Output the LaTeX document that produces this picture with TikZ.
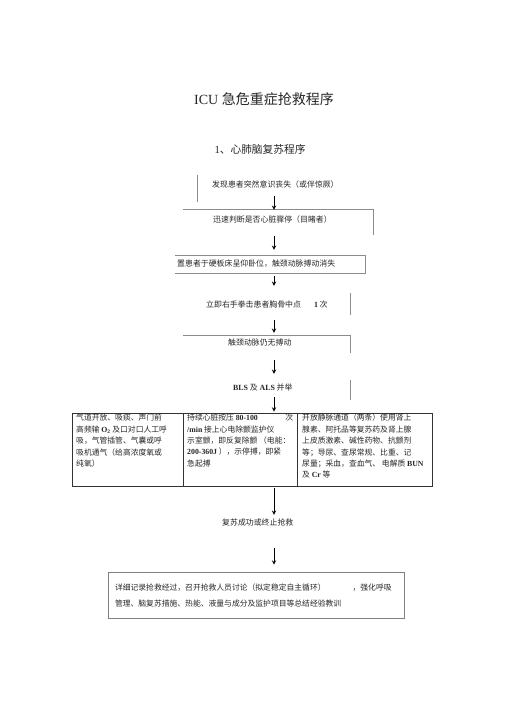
\documentclass[tikz,border=0pt]{standalone}
\usepackage{fontspec}
\setmainfont{Liberation Serif}
\newfontfamily\cjk{Noto Sans CJK SC}
\usetikzlibrary{arrows}
\newcommand{\lat}[1]{{\rmfamily\bfseries #1}}
\tikzstyle{boxtext} = [anchor = west, inner sep = 0pt, text height = 6.5pt, text depth = 1.5pt, font = \cjk\fontsize{7.9}{9}\selectfont, text = black!85]
\tikzstyle{tablecell} = [anchor = north west, inner sep = 0pt, align = left, font = \cjk\fontsize{7.8}{11.4}\selectfont, text = black!85]
\tikzstyle{boxline} = [draw = black!45, line width = 0.6pt]
\tikzstyle{arrow} = [line width = 0.9pt,->,>=stealth]
\begin{document}
\begin{tikzpicture}[x = 1pt, y = -1pt]
        	\useasboundingbox (0,0) rectangle (505,714);
        	\coordinate (axis) at (274,0);

        	\node[font = \fontsize{14}{16}\selectfont, text = black!85](Title) at (264,99){ICU \cjk 急危重症抢救程序};
        	\node[font = \fontsize{10.7}{12}\selectfont, text = black!85](Subtitle) at (260,149){1\cjk 、心肺脑复苏程序};

        	\node[boxtext](Step 1) at (212,185){发现患者突然意识丧失（或伴惊厥）};
        	\node[boxtext](Step 2) at (213,220){迅速判断是否心脏骤停（目睹者）};
        	\node[boxtext](Step 3) at (177,264){置患者于硬板床呈仰卧位，触颈动脉搏动消失};
        	\node[boxtext](Step 4) at (206,305){立即右手拳击患者胸骨中点\hspace{13pt}\lat{1} 次};
        	\node[boxtext](Step 5) at (228,343){触颈动脉仍无搏动};
        	\node[boxtext](Step 6) at (233,388){\lat{BLS} 及 \lat{ALS} 并举};

        	\draw[boxline](197,175) -- (197,202);
        	\draw[boxline](183,209) -- (373,209) -- (373,235);
        	\draw[boxline](175,255) -- (365,255) -- (365,273) -- (175,273);
        	\draw[boxline](350,293) -- (350,315);
        	\draw[boxline](183,335) -- (350,335) -- (350,353);
        	\draw[boxline](350,380) -- (350,400);

        	\node[draw = black!80, line width = 0.9pt, minimum width = 360pt, minimum height = 73pt, inner sep = 0pt](Table) at (252,449.5){};
        	\draw[draw = black!80, line width = 0.7pt](183,413) -- (183,486);
        	\draw[draw = black!80, line width = 0.7pt](297,413) -- (297,486);
        	\node[tablecell](Cell 1) at (76,414){气道开放、吸痰、声门前\\高频输 \lat{O\textsubscript{2}} 及口对口人工呼\\吸，气管插管、气囊或呼\\吸机通气（给高浓度氧或\\纯氧）};
        	\node[tablecell](Cell 2) at (187,414){\makebox[106pt][l]{持续心脏按压 \lat{80-100}\hfill 次}\\\lat{/min} 接上心电除颤监护仪\\示室颤，即反复除颤 （电能：\\\lat{200-360J} ），示停搏，即紧\\急起搏};
        	\node[tablecell](Cell 3) at (302,414){开放静脉通道（两条）使用肾上\\腺素、阿托品等复苏药及肾上腺\\上皮质激素、碱性药物、抗颤剂\\等；导尿、查尿常规、比重、记\\尿量；采血，查血气、 电解质 \lat{BUN}\\及 \lat{Cr} 等};

        	\node[boxtext](Result) at (222,523){复苏成功或终止抢救};
        	\node[draw = black!50, line width = 0.8pt, minimum width = 296pt, minimum height = 46pt, text width = 282pt, inner xsep = 7pt, align = left, font = \cjk\fontsize{7.8}{16}\selectfont, text = black!85](Summary) at (256,595){详细记录抢救经过，召开抢救人员讨论（拟定稳定自主循环）\hspace{27pt}，强化呼吸\\管理、脑复苏措施、热能、液量与成分及监护项目等总结经验教训};

        	\draw [arrow, shorten <= 7pt, shorten >= 6pt](Step 1.south -| axis) -- (Step 2.north -| axis);
        	\draw [arrow, shorten <= 12pt, shorten >= 10pt](Step 2.south -| axis) -- (Step 3.north -| axis);
        	\draw [arrow, shorten <= 8pt, shorten >= 15pt](Step 3.south -| axis) -- (Step 4.north -| axis);
        	\draw [arrow, shorten <= 11pt, shorten >= 6pt](Step 4.south -| axis) -- (Step 5.north -| axis);
        	\draw [arrow, shorten <= 13pt, shorten >= 10pt](Step 5.south -| axis) -- (Step 6.north -| axis);
        	\draw [arrow, shorten <= 5pt, shorten >= 1pt](Step 6.south -| axis) -- (Table.north -| axis);
        	\draw [arrow, shorten <= 2pt, shorten >= 4pt](Table.south -| axis) -- (Result.north -| axis);
        	\draw [arrow, shorten <= 21pt, shorten >= 7pt](Result.south -| axis) -- (Summary.north -| axis);

\end{tikzpicture}
\end{document}
